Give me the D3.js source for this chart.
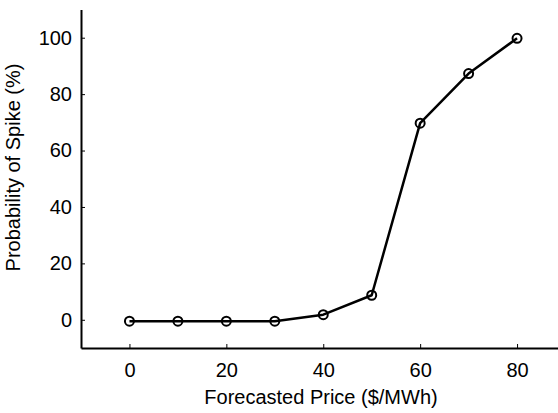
<!DOCTYPE html>
<html><head><meta charset="utf-8">
<script src="https://cdn.jsdelivr.net/npm/d3@7"></script>
<style>body{margin:0;background:#fff}svg{display:block}text{font-family:"Liberation Sans",Arial,sans-serif}</style>
</head><body><div id="c"></div>
<script>
const prices = [0, 10, 20, 30, 40, 50, 60, 70, 80];
const probability = [-0.5, -0.5, -0.5, -0.5, 1.8, 8.7, 69.7, 87.3, 99.8];
const xTicks = [0, 20, 40, 60, 80];
const yTicks = [0, 20, 40, 60, 80, 100];

const W = 558, H = 413;
const svg = d3.select("#c").append("svg").attr("width", W).attr("height", H);
const x = d3.scaleLinear().domain([-10, 90]).range([81, 565.5]);
const y = d3.scaleLinear().domain([-10, 110]).range([348, 9.5]);

const xAxis = svg.append("g").attr("transform", `translate(0,${y(-10)})`)
  .call(d3.axisBottom(x).tickValues(xTicks).tickSizeInner(-4).tickSizeOuter(0).tickPadding(15).tickFormat(d3.format("d")));
const yAxis = svg.append("g").attr("transform", `translate(${x(-10)},0)`)
  .call(d3.axisLeft(y).tickValues(yTicks).tickSizeInner(-4).tickSizeOuter(0).tickPadding(9).tickFormat(d3.format("d")));
[xAxis, yAxis].forEach(g => {
  g.select(".domain").attr("stroke", "#000").attr("stroke-width", 2);
  g.selectAll(".tick line").attr("stroke", "#000").attr("stroke-width", 1);
  g.selectAll(".tick text").attr("fill", "#000").style("font-size", "20px");
});

const line = d3.line().x((d, i) => x(prices[i])).y(d => y(d));
svg.append("path").datum(probability).attr("d", line)
  .attr("fill", "none").attr("stroke", "#000").attr("stroke-width", 2.5).attr("stroke-linejoin", "round");
svg.selectAll("circle.pt").data(probability).join("circle").attr("class", "pt")
  .attr("cx", (d, i) => x(prices[i])).attr("cy", d => y(d)).attr("r", 4.5)
  .attr("fill", "none").attr("stroke", "#000").attr("stroke-width", 2);

svg.append("text").attr("x", 321).attr("y", 404).attr("text-anchor", "middle")
  .style("font-size", "20px").attr("fill", "#000").text("Forecasted Price ($/MWh)");
svg.append("text").attr("transform", `translate(20,167.5) rotate(-90)`).attr("text-anchor", "middle")
  .style("font-size", "20px").attr("fill", "#000").text("Probability of Spike (%)");
</script></body></html>
